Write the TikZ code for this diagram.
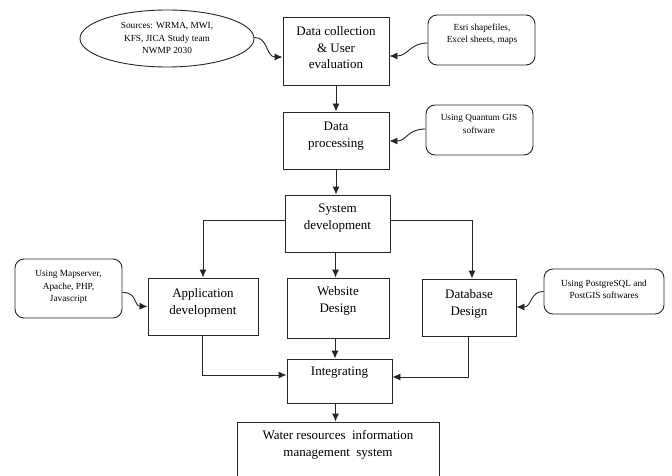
\documentclass[tikz,border=0pt]{standalone}
\usepackage{fontspec}
\setmainfont{Liberation Serif}
\usetikzlibrary{shapes.geometric,arrows.meta}
\tikzset{
  box/.style={draw=black!85, line width=0.9pt, rectangle, inner sep=0pt},
  rbox/.style={draw=black!85, line width=0.9pt, rectangle, rounded corners=9pt, inner sep=0pt},
  oval/.style={draw=black!85, line width=0.9pt, ellipse, inner sep=0pt},
  bigtxt/.style={align=center, inner sep=0pt, font=\fontsize{13}{16.5}\selectfont},
  smalltxt/.style={align=center, inner sep=0pt, font=\fontsize{9.3}{12.2}\selectfont},
  arr/.style={draw=black!85, line width=0.9pt, -{Latex[length=8pt,width=7pt]}},
}
\begin{document}
\begin{tikzpicture}[x=1pt,y=-1pt]
\useasboundingbox (0,0) rectangle (672,476);
% main boxes
\node[box, minimum width=106, minimum height=68] (dc) at (336,51) {};
\node[bigtxt] (dct) at (336,48) {Data collection\\ \& User\\ evaluation};
\node[box, minimum width=106, minimum height=57] (dp) at (336,140.5) {};
\node[bigtxt] (dpt) at (336,136) {Data\\ processing};
\node[box, minimum width=105, minimum height=57] (sd) at (337.5,223.5) {};
\node[bigtxt] (sdt) at (337.5,218) {System\\ development};
\node[box, minimum width=110, minimum height=57] (app) at (203,306.5) {};
\node[bigtxt] (appt) at (203,303) {Application\\ development};
\node[box, minimum width=102, minimum height=60] (web) at (338,308) {};
\node[bigtxt] (webt) at (338,301) {Website\\ Design};
\node[box, minimum width=94, minimum height=57] (db) at (469,307.5) {};
\node[bigtxt] (dbt) at (469,304) {Database\\ Design};
\node[box, minimum width=105, minimum height=44] (int) at (339.5,381) {};
\node[bigtxt] (intt) at (339.5,373) {Integrating};
\node[box, minimum width=202, minimum height=58] (wr) at (338,451) {};
\node[bigtxt] (wrt) at (338,445) {Water resources\ \ information\\ management\ \ system};
% side notes
\node[oval, minimum width=174, minimum height=57] (src) at (167,38.5) {};
\node[smalltxt] (srct) at (167,38) {Sources: WRMA, MWI,\\ KFS, JICA Study team\\ NWMP 2030};
\node[rbox, minimum width=107, minimum height=50] (esri) at (481.5,40) {};
\node[smalltxt] (esrit) at (482,34.5) {Esri shapefiles,\\ Excel sheets, maps};
\node[rbox, minimum width=107, minimum height=50] (qgis) at (479.5,130) {};
\node[smalltxt] (qgist) at (479,124) {Using Quantum GIS\\ software};
\node[rbox, minimum width=107, minimum height=59] (ms) at (68.5,288.5) {};
\node[smalltxt] (mst) at (68.5,287) {Using Mapserver,\\ Apache, PHP,\\ Javascript};
\node[rbox, minimum width=120, minimum height=45] (pg) at (604,291.5) {};
\node[smalltxt] (pgt) at (604,289) {Using PostgreSQL and\\ PostGIS softwares};
% connectors
\draw[arr] (dc.south) -- (dc.south |- dp.north);
\draw[arr] (dp.south) -- (dp.south |- sd.north);
\draw[arr] ([yshift=3.5pt]sd.west) -| (app.north);
\draw[arr] ([yshift=3.5pt]sd.east) -| ([xshift=3pt]db.north);
\draw[arr] ([xshift=-2pt]sd.south) -- ([xshift=-2pt]sd.south |- web.north);
\draw[arr] ([xshift=-1pt]app.south) |- ([yshift=6pt]int.west);
\draw[arr] ([xshift=-1pt]db.south) |- ([yshift=4pt]int.east);
\draw[arr] ([xshift=-3pt]web.south) -- ([xshift=-3pt]web.south |- int.north);
\draw[arr] ([xshift=-4pt]int.south) -- ([xshift=-4pt]int.south |- wr.north);
% curved note arrows
\draw[arr] ([yshift=1pt]src.east) .. controls (268,37) and (266,57) .. ([yshift=-6pt]dc.west);
\draw[arr] ([yshift=-3pt]esri.west) .. controls (410,43) and (408,56) .. ([yshift=-5pt]dc.east);
\draw[arr] ([yshift=1pt]qgis.west) .. controls (407,129) and (407,141) .. ([yshift=-0.5pt]dp.east);
\draw[arr] ([yshift=-4pt]ms.east) .. controls (137,292) and (134,306) .. (app.west);
\draw[arr] (pg.west) .. controls (530,291) and (532,307) .. ([yshift=0.5pt]db.east);
\end{tikzpicture}
\end{document}
